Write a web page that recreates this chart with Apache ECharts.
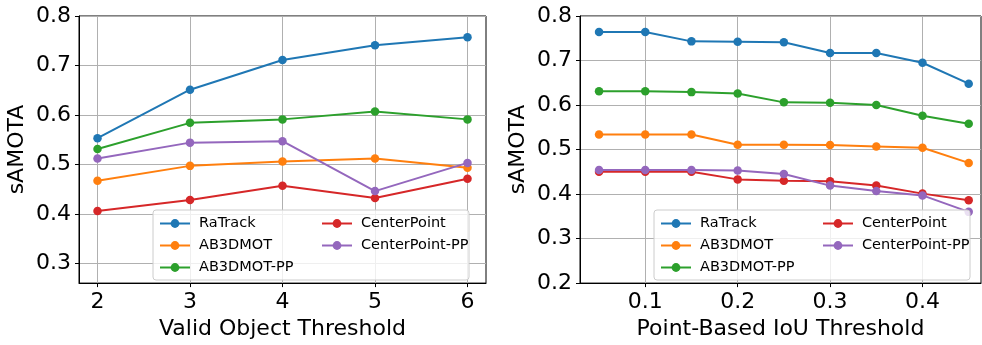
<!DOCTYPE html>
<html>
<head>
<meta charset="utf-8">
<script src="https://cdn.jsdelivr.net/npm/echarts@6/dist/echarts.min.js"></script>
<style>
  html, body { margin: 0; padding: 0; background: #fff; }
  #main { width: 982px; height: 345px; }
</style>
</head>
<body>
<div id="main"></div>
<script>
// left panel: valid object threshold
var objThresh = [2, 3, 4, 5, 6];
var ratrackA = [0.553, 0.651, 0.711, 0.741, 0.757];
var ab3dmotA = [0.467, 0.497, 0.506, 0.512, 0.493];
var ab3dmotPPA = [0.531, 0.584, 0.591, 0.607, 0.591];
var centerPointA = [0.406, 0.428, 0.457, 0.432, 0.471];
var centerPointPPA = [0.512, 0.544, 0.547, 0.446, 0.503];

// right panel: point-based IoU threshold
var iouThresh = [0.05, 0.1, 0.15, 0.2, 0.25, 0.3, 0.35, 0.4, 0.45];
var ratrackB = [0.764, 0.764, 0.743, 0.742, 0.741, 0.717, 0.717, 0.695, 0.648];
var ab3dmotB = [0.534, 0.534, 0.534, 0.511, 0.511, 0.510, 0.507, 0.504, 0.470];
var ab3dmotPPB = [0.631, 0.631, 0.629, 0.626, 0.606, 0.605, 0.600, 0.576, 0.558];
var centerPointB = [0.450, 0.450, 0.450, 0.433, 0.430, 0.429, 0.419, 0.401, 0.386];
var centerPointPPB = [0.454, 0.454, 0.454, 0.453, 0.445, 0.419, 0.407, 0.397, 0.360];

var xTicksA = [2, 3, 4, 5, 6];
var yTicksA = [0.3, 0.4, 0.5, 0.6, 0.7, 0.8];
var xTicksB = [0.1, 0.2, 0.3, 0.4];
var yTicksB = [0.2, 0.3, 0.4, 0.5, 0.6, 0.7, 0.8];

var names = ['RaTrack', 'AB3DMOT', 'AB3DMOT-PP', 'CenterPoint', 'CenterPoint-PP'];
var colors = ['#1f77b4', '#ff7f0e', '#2ca02c', '#d62728', '#9467bd'];
var FONT = 'DejaVu Sans';

function pairs(xs, ys) {
  var out = [];
  for (var i = 0; i < xs.length; i++) out.push([xs[i], ys[i]]);
  return out;
}

function makeAxis(gridIndex, min, max, ticks, name, nameGap) {
  return {
    type: 'value',
    gridIndex: gridIndex,
    min: min,
    max: max,
    name: name,
    nameLocation: 'middle',
    nameGap: nameGap,
    nameTextStyle: { fontFamily: FONT, fontSize: 22, color: '#000' },
    axisLine: { show: true, onZero: false, lineStyle: { color: '#000', width: 1 } },
    axisTick: { show: true, inside: false, length: 4, customValues: ticks, lineStyle: { color: '#000', width: 1 } },
    axisLabel: {
      customValues: ticks,
      fontFamily: FONT, fontSize: 22, color: '#000',
      margin: 8,
      formatter: function (v) { return String(+v.toFixed(2)); }
    },
    splitLine: { show: true, lineStyle: { color: '#b0b0b0', width: 1 } }
  };
}

// legend = two vertical columns; the first one carries the frame
function makeLegend(left, items, framed) {
  return {
    data: items,
    left: left,
    top: 210,
    orient: 'vertical',
    itemWidth: 30,
    itemHeight: 11,
    itemGap: 7,
    padding: framed ? [6, 170, 5, 6] : [6, 0, 5, 6],
    backgroundColor: framed ? 'rgba(255,255,255,0.8)' : 'transparent',
    borderColor: framed ? '#cccccc' : 'transparent',
    borderWidth: framed ? 1 : 0,
    borderRadius: 3,
    z: framed ? 10 : 11,
    textStyle: { fontFamily: FONT, fontSize: 14.5, color: '#000', width: 100, lineHeight: 14, padding: [0, 0, 0, 4] }
  };
}
var col1 = ['RaTrack', 'AB3DMOT', 'AB3DMOT-PP'];
var col2 = ['CenterPoint', 'CenterPoint-PP'];

var seriesA = [ratrackA, ab3dmotA, ab3dmotPPA, centerPointA, centerPointPPA];
var seriesB = [ratrackB, ab3dmotB, ab3dmotPPB, centerPointB, centerPointPPB];
var series = [];
[seriesA, seriesB].forEach(function (set, gi) {
  var xs = gi === 0 ? objThresh : iouThresh;
  set.forEach(function (vals, i) {
    series.push({
      name: names[i],
      type: 'line',
      xAxisIndex: gi,
      yAxisIndex: gi,
      data: pairs(xs, vals),
      symbol: 'circle',
      symbolSize: 8.5,
      showSymbol: true,
      color: colors[i],
      lineStyle: { width: 2, color: colors[i] },
      itemStyle: { color: colors[i] },
      z: 2 + i
    });
  });
});

var chart = echarts.init(document.getElementById('main'));
chart.setOption({
  animation: false,
  textStyle: { fontFamily: FONT },
  grid: [
    { left: 79, right: 496, top: 16, bottom: 60, show: true, borderColor: '#000', borderWidth: 1, backgroundColor: 'transparent' },
    { left: 580, right: 1, top: 16, bottom: 60, show: true, borderColor: '#000', borderWidth: 1, backgroundColor: 'transparent' }
  ],
  xAxis: [
    makeAxis(0, 1.8, 6.2, xTicksA, 'Valid Object Threshold', 32),
    makeAxis(1, 0.0294, 0.4633, xTicksB, 'Point-Based IoU Threshold', 32)
  ],
  yAxis: [
    makeAxis(0, 0.26, 0.8, yTicksA, 'sAMOTA', 51),
    makeAxis(1, 0.2, 0.8, yTicksB, 'sAMOTA', 51)
  ],
  legend: [
    makeLegend(153, col1, true), makeLegend(315, col2, false),
    makeLegend(654, col1, true), makeLegend(816, col2, false)
  ],
  series: series
});
</script>
</body>
</html>
